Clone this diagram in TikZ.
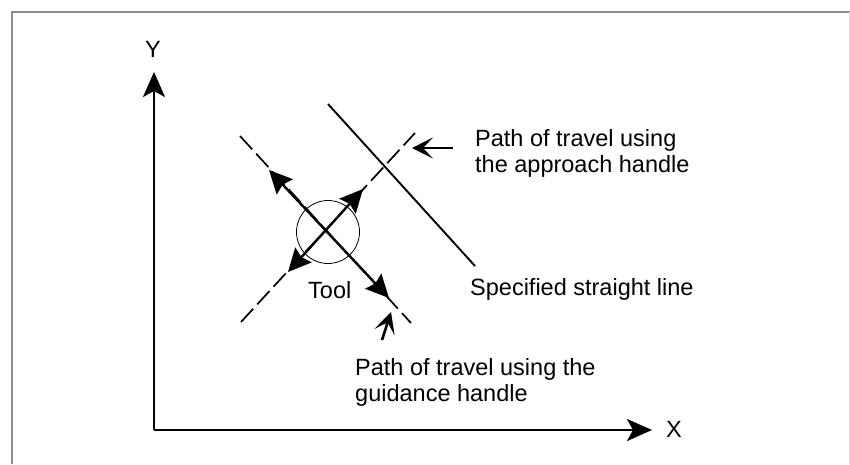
\documentclass[tikz,border=0pt]{standalone}
\usepackage{fontspec}
\setmainfont{Liberation Sans}
\usetikzlibrary{arrows.meta}
\begin{document}
\begin{tikzpicture}[x=1pt,y=-1pt,
  lbl/.style={inner sep=0pt,font=\fontsize{23.5}{26}\selectfont},
  axis/.style={line width=2.2pt,-{Stealth[length=25pt,width=22pt,inset=6pt]}},
  guide/.style={line width=1.7pt,dash pattern=on 18pt off 6pt},
  travel/.style={line width=2.4pt,{Stealth[length=23pt,width=22pt,inset=3pt]}-{Stealth[length=23pt,width=22pt,inset=3pt]}},
  pointer/.style={line width=2.6pt,-{Stealth[length=21pt,width=21pt,inset=10pt]}}]
\useasboundingbox (0,0) rectangle (850,464);
% frame
\draw[line width=2pt,color=black!45] (11.5,464) -- (11.5,11.5) -- (850,11.5);
\draw[line width=1pt,color=black!15] (849.5,11.5) -- (849.5,464);
% axes
\coordinate (O) at (154,430);
\coordinate (Ytip) at (154,72);
\coordinate (Xtip) at (652,430);
\draw[axis] (O) -- (Ytip);
\draw[axis] (O) -- (Xtip);
\node[lbl,anchor=base] (ylab) at (153,57) {Y};
\node[lbl,anchor=base] (xlab) at (674,437) {X};
% specified straight line
\coordinate (s1) at (328,104);
\coordinate (s2) at (475,266);
\draw[line width=1.9pt] (s1) -- (s2);
% dashed paths
\coordinate (a1) at (241,322);
\coordinate (a2) at (415,133);
\coordinate (g1) at (240,136);
\coordinate (g2) at (411,323);
\draw[guide] (a1) -- (a2);
\draw[guide] (g1) -- (g2);
% tool
\node[circle,draw,line width=0.8pt,minimum size=63pt,inner sep=0pt] (tool) at (328,232) {};
% travel arrows
\coordinate (ga) at (269,170);
\coordinate (gb) at (389,298);
\coordinate (aa) at (288,272);
\coordinate (ab) at (363,189);
\draw[travel] (ga) -- (gb);
\draw[travel] (aa) -- (ab);
% labels
\node[lbl,anchor=base west] (toollab) at (308,298) {Tool};
\node[lbl,anchor=base west] (speclab) at (470,295) {Specified straight line};
\node[lbl,anchor=north west,align=left] (applab) at (475,129) {Path of travel using\\the approach handle};
\node[lbl,anchor=north west,align=left] (guidlab) at (355,358) {Path of travel using the\\guidance handle};
% pointers
\coordinate (p1s) at (453,148);
\coordinate (p1e) at (412,148);
\coordinate (p2s) at (382,340);
\coordinate (p2e) at (391,312);
\draw[pointer] (p1s) -- (p1e);
\draw[pointer] (p2s) -- (p2e);
\end{tikzpicture}
\end{document}
